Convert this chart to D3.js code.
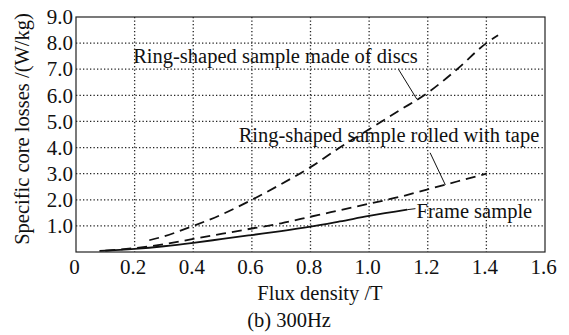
<!DOCTYPE html>
<html>
<head>
<meta charset="utf-8">
<script src="https://cdn.jsdelivr.net/npm/d3@7"></script>
<style>
  body { margin: 0; background: #fff; }
  text { font-family: "Liberation Serif", "DejaVu Serif", serif; fill: #111; }
</style>
</head>
<body>
<div id="chart"></div>
<script>
"use strict";

// data
const discB = [0.25, 0.3, 0.4, 0.5, 0.6, 0.7, 0.8, 0.9, 1.0, 1.1, 1.2, 1.3, 1.4, 1.44];
const discP = [0.45, 0.6, 1.0, 1.45, 2.0, 2.6, 3.25, 4.0, 4.7, 5.4, 6.1, 7.0, 8.0, 8.3];

const tapeB = [0.1, 0.2, 0.3, 0.4, 0.5, 0.6, 0.7, 0.8, 0.9, 1.0, 1.1, 1.2, 1.3, 1.4];
const tapeP = [0.05, 0.15, 0.3, 0.5, 0.7, 0.9, 1.1, 1.35, 1.6, 1.85, 2.1, 2.4, 2.7, 3.0];

const frameB = [0.08, 0.2, 0.3, 0.4, 0.5, 0.6, 0.7, 0.8, 0.9, 1.0, 1.13];
const frameP = [0.04, 0.12, 0.22, 0.35, 0.5, 0.65, 0.8, 0.97, 1.17, 1.38, 1.62];

const xTicks = [0, 0.2, 0.4, 0.6, 0.8, 1.0, 1.2, 1.4, 1.6];
const yTicks = [1, 2, 3, 4, 5, 6, 7, 8, 9];

const svgWidth = 569, svgHeight = 335;
const margin = { top: 17, right: 24, bottom: 83, left: 76 },
    width = svgWidth - margin.left - margin.right,
    height = svgHeight - margin.top - margin.bottom;

const svg = d3.select("#chart").append("svg")
    .attr("width", svgWidth)
    .attr("height", svgHeight);

const g = svg.append("g")
    .attr("transform", "translate(" + margin.left + "," + margin.top + ")");

const x = d3.scaleLinear().domain([0, 1.6]).range([0, width]);
const y = d3.scaleLinear().domain([0, 9]).range([height, 0]);

// dotted grid
g.append("g")
    .selectAll("line")
    .data(xTicks.slice(1, -1))
    .enter().append("line")
    .attr("x1", d => x(d)).attr("x2", d => x(d))
    .attr("y1", 0).attr("y2", height)
    .attr("stroke", "#222").attr("stroke-width", 1.3)
    .attr("stroke-dasharray", "1.3,2.2");

g.append("g")
    .selectAll("line")
    .data(yTicks.slice(0, -1))
    .enter().append("line")
    .attr("x1", 0).attr("x2", width)
    .attr("y1", d => y(d)).attr("y2", d => y(d))
    .attr("stroke", "#222").attr("stroke-width", 1.3)
    .attr("stroke-dasharray", "1.3,2.2");

// frame
g.append("rect")
    .attr("width", width).attr("height", height)
    .attr("fill", "none").attr("stroke", "#222").attr("stroke-width", 1.2);

// axes
const xAxis = g.append("g")
    .attr("transform", "translate(0," + height + ")")
    .call(d3.axisBottom(x).tickValues(xTicks).tickSize(0).tickPadding(7)
        .tickFormat(d => d === 0 ? "0" : d3.format(".1f")(d)));
xAxis.select(".domain").remove();
xAxis.selectAll("text").style("font-size", "21px").style("font-family", "Liberation Serif")
    .attr("dx", "-2");

const yAxis = g.append("g")
    .call(d3.axisLeft(y).tickValues(yTicks).tickSize(0).tickPadding(3)
        .tickFormat(d3.format(".1f")));
yAxis.select(".domain").remove();
yAxis.selectAll("text").style("font-size", "21px").style("font-family", "Liberation Serif");

// curves
const line = d3.line()
    .x(d => x(d[0]))
    .y(d => y(d[1]))
    .curve(d3.curveMonotoneX);

const series = [
    { b: discB, p: discP, dash: "10,6" },
    { b: tapeB, p: tapeP, dash: "10,6" },
    { b: frameB, p: frameP, dash: null }
];

series.forEach(s => {
    g.append("path")
        .datum(d3.zip(s.b, s.p))
        .attr("d", line)
        .attr("fill", "none")
        .attr("stroke", "#111")
        .attr("stroke-width", 1.8)
        .attr("stroke-dasharray", s.dash);
});

// annotations
const notes = [
    { text: "Ring-shaped sample made of discs", x: 0.195, y: 7.25 },
    { text: "Ring-shaped sample rolled with tape", x: 0.555, y: 4.2 },
    { text: "Frame sample", x: 1.162, y: 1.3 }
];

g.selectAll(".note")
    .data(notes)
    .enter().append("text")
    .attr("class", "note")
    .attr("x", d => x(d.x))
    .attr("y", d => y(d.y))
    .style("font-size", "20.5px")
    .text(d => d.text);

// leader lines
const leaders = [
    [[1.1, 7.0], [1.163, 5.85]],
    [[1.208, 3.8], [1.26, 2.57]],
    [[1.13, 1.62], [1.158, 1.66]]
];
leaders.forEach(l => {
    g.append("line")
        .attr("x1", x(l[0][0])).attr("y1", y(l[0][1]))
        .attr("x2", x(l[1][0])).attr("y2", y(l[1][1]))
        .attr("stroke", "#111").attr("stroke-width", 1);
});

// axis titles
svg.append("text")
    .attr("x", 320)
    .attr("y", 300)
    .attr("text-anchor", "middle")
    .style("font-size", "20.5px")
    .text("Flux density /T");

svg.append("text")
    .attr("x", 289)
    .attr("y", 327)
    .attr("text-anchor", "middle")
    .style("font-size", "20.5px")
    .text("(b) 300Hz");

svg.append("text")
    .attr("transform", "translate(29,129) rotate(-90)")
    .attr("text-anchor", "middle")
    .style("font-size", "20.5px")
    .text("Specific core losses /(W/kg)");
</script>
</body>
</html>
